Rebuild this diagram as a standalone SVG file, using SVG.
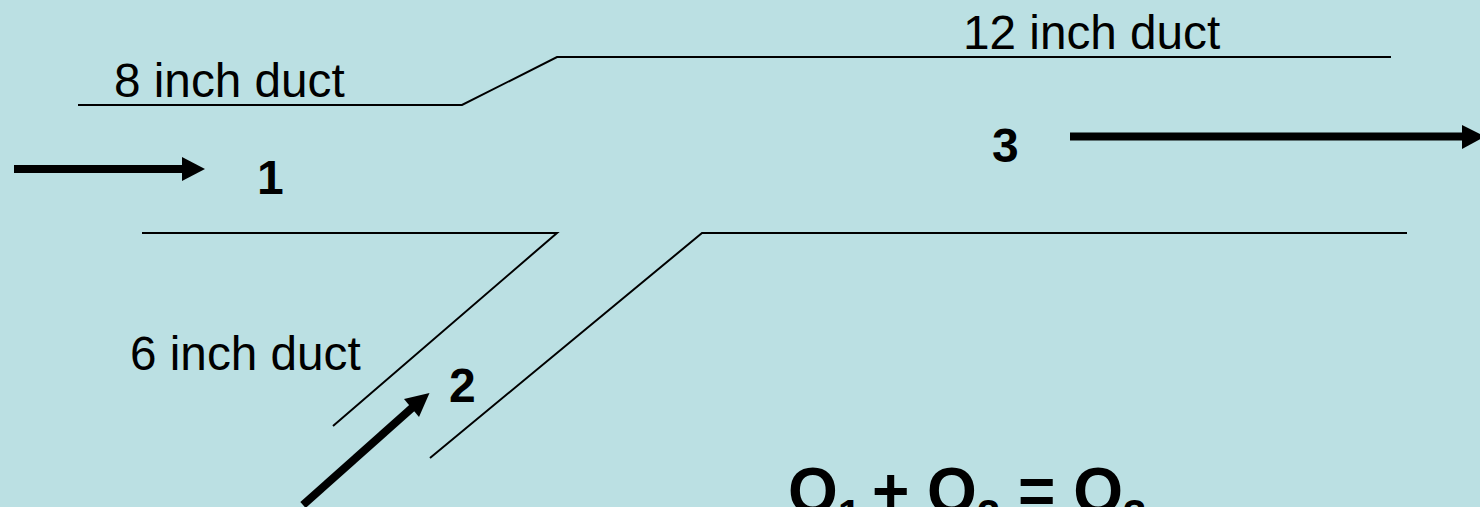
<svg xmlns="http://www.w3.org/2000/svg" width="1480" height="507" viewBox="0 0 1480 507">
<style>
text{font-family:"Liberation Sans",Arial,sans-serif;fill:#000}
.l{font-size:47.700px}
.b{font-size:48px;font-weight:bold}
.q{font-size:64px;font-weight:bold}
.s{font-size:42px}
.d{fill:none;stroke:#000;stroke-width:2}
.a{stroke:#000;stroke-width:8;fill:none}
</style>
<rect width="1480" height="507" fill="#bbe0e3"/>
<g id="connectors">
<path class="d" d="M78 105H462L557 57H1391"/>
<path class="d" d="M142 233H557L333 426"/>
<path class="d" d="M1407 233H702L430 458"/>
<path class="a" d="M14 169H183"/>
<path d="M182 157L205 169L182 181Z"/>
<path class="a" d="M1070 136.500H1463"/>
<path d="M1462 125L1485 136.500L1462 149Z"/>
<path class="a" d="M303 505L413 407"/>
<path d="M429.500 393L419 417L404 399Z"/>
</g>
<g id="label-8"><text class="l" x="114" y="97">8 inch duct</text></g>
<g id="label-12"><text class="l" x="963" y="49">12 inch duct</text></g>
<g id="label-6"><text class="l" x="130" y="370">6 inch duct</text></g>
<g id="node-1"><text class="b" x="257" y="194">1</text></g>
<g id="node-2"><text class="b" x="449" y="402">2</text></g>
<g id="node-3"><text class="b" x="992" y="162">3</text></g>
<g id="equation"><text class="q" x="788" y="513">Q<tspan class="s" dy="16">1</tspan><tspan dx="-7" dy="-16"> + Q</tspan><tspan class="s" dy="16">2</tspan><tspan dy="-16"> = Q</tspan><tspan class="s" dy="16">3</tspan></text></g>
</svg>
